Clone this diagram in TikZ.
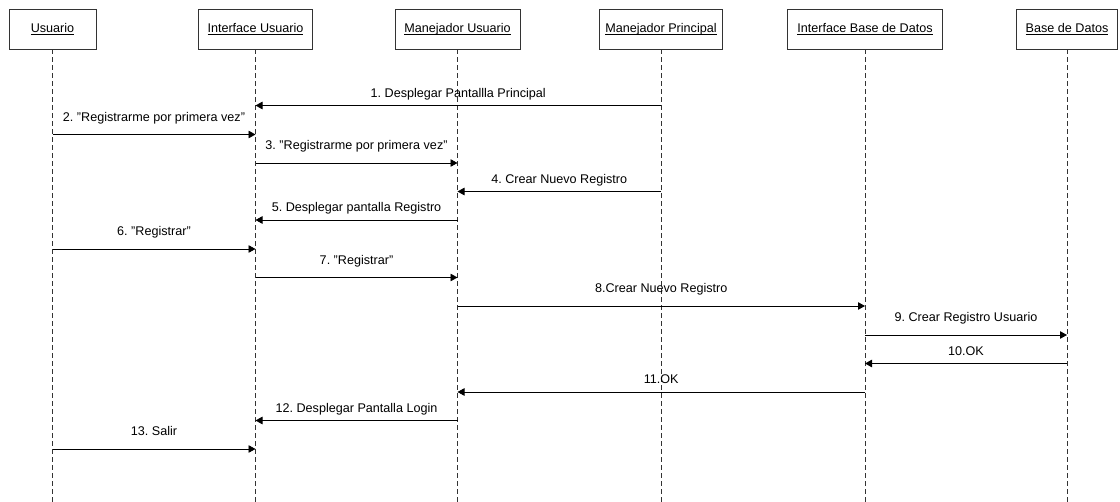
\documentclass[tikz,border=0pt]{standalone}
\usepackage{fontspec}
\setmainfont{Liberation Sans}
\usetikzlibrary{arrows.meta}
\frenchspacing
% underline at a fixed distance under the baseline, whatever the descenders
\newcommand\hdrline[1]{\underline{\vphantom{U}\smash{#1}}}
\begin{document}
\begin{tikzpicture}[x=1pt,y=-1pt,
  hdr/.style={draw=black!80,line width=0.9pt,minimum height=40pt,inner sep=0pt,
    font=\fontsize{12.6}{15}\selectfont},
  life/.style={draw=black!80,line width=0.9pt,dash pattern=on 5pt off 3pt},
  msg/.style={draw=black,line width=0.9pt,-{Triangle[length=7pt,width=7.5pt]}},
  lblr/.style={anchor=base,yshift=13pt,inner sep=0pt,font=\fontsize{12.6}{15}\selectfont},
  lbll/.style={anchor=base,yshift=8pt,inner sep=0pt,font=\fontsize{12.6}{15}\selectfont}]
\useasboundingbox (0,0) rectangle (1120,502);

% participants
\node[hdr,minimum width=87pt]  (u)   at (52.5,29)  {\hdrline{Usuario}};
\node[hdr,minimum width=114pt] (iu)  at (255.5,29) {\hdrline{Interface Usuario}};
\node[hdr,minimum width=125pt] (mu)  at (457.5,29) {\hdrline{Manejador Usuario}};
\node[hdr,minimum width=123pt] (mp)  at (661,29)   {\hdrline{Manejador Principal}};
\node[hdr,minimum width=155pt] (ibd) at (865,29)   {\hdrline{Interface Base de Datos}};
\node[hdr,minimum width=101pt] (bd)  at (1067,29)  {\hdrline{Base de Datos}};

% lifelines
\foreach \p in {u,iu,mu,mp,ibd,bd}{
  \coordinate (\p-end) at (\p.south |- 0,502);
  \draw[life] (\p.south) -- (\p-end);
}

% messages
\draw[msg] (mp  |- 0,105.5) -- node[midway,lbll] {1. Desplegar Pantallla Principal} (iu  |- 0,105.5);
\draw[msg] (u   |- 0,134.5) -- node[midway,lblr] {2. "Registrarme por primera vez"} (iu  |- 0,134.5);
\draw[msg] (iu  |- 0,163)   -- node[midway,lblr] {3. "Registrarme por primera vez"} (mu  |- 0,163);
\draw[msg] (mp  |- 0,191.5) -- node[midway,lbll] {4. Crear Nuevo Registro} (mu  |- 0,191.5);
\draw[msg] (mu  |- 0,220)   -- node[midway,lbll] {5. Desplegar pantalla Registro} (iu  |- 0,220);
\draw[msg] (u   |- 0,249)   -- node[midway,lblr] {6. "Registrar"} (iu  |- 0,249);
\draw[msg] (iu  |- 0,277.5) -- node[midway,lblr] {7. "Registrar"} (mu  |- 0,277.5);
\draw[msg] (mu  |- 0,306)   -- node[midway,lblr] {8.Crear Nuevo Registro} (ibd |- 0,306);
\draw[msg] (ibd |- 0,335)   -- node[midway,lblr] {9. Crear Registro Usuario} (bd  |- 0,335);
\draw[msg] (bd  |- 0,363.5) -- node[midway,lbll] {10.OK} (ibd |- 0,363.5);
\draw[msg] (ibd |- 0,392)   -- node[midway,lbll] {11.OK} (mu  |- 0,392);
\draw[msg] (mu  |- 0,420.5) -- node[midway,lbll] {12. Desplegar Pantalla Login} (iu  |- 0,420.5);
\draw[msg] (u   |- 0,449)   -- node[midway,lblr] {13. Salir} (iu  |- 0,449);
\end{tikzpicture}
\end{document}
